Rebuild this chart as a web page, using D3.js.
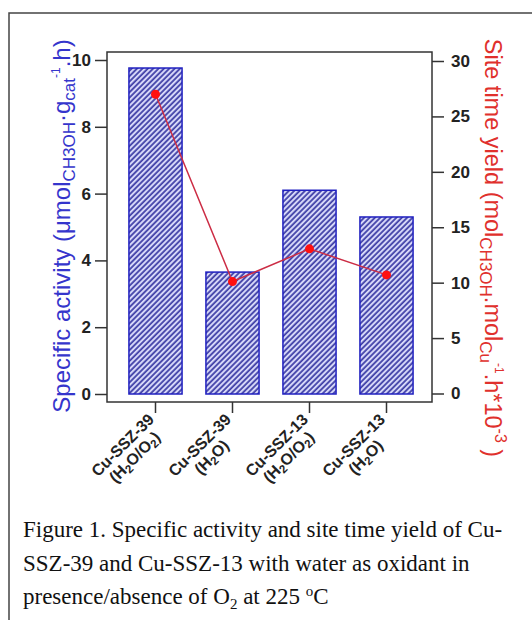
<!DOCTYPE html>
<html><head><meta charset="utf-8">
<script src="https://cdn.jsdelivr.net/npm/d3@7"></script>
<style>body{margin:0;background:#fff}svg{display:block}</style>
</head><body>
<svg id="chart" width="532" height="620"></svg>
<script>
const categories = ["Cu-SSZ-39|(H2O/O2)", "Cu-SSZ-39|(H2O)", "Cu-SSZ-13|(H2O/O2)", "Cu-SSZ-13|(H2O)"];
const specificActivity = [9.76, 3.65, 6.1, 5.3];
const siteTimeYield = [27.0, 10.1, 13.05, 10.7];
const leftTicks = [0, 2, 4, 6, 8, 10];
const rightTicks = [0, 5, 10, 15, 20, 25, 30];
const captionLines = [
  [["Figure 1. Specific activity and site time yield of Cu-", null]],
  [["SSZ-39 and Cu-SSZ-13 with water as oxidant in", null]],
  [["presence/absence of O", null], ["2", "sub"], [" at 225 ", null], ["o", "sup"], ["C", null]]
];

const svg = d3.select("#chart");
const frame = {l: 107, r: 432, t: 52, b: 402};

// outer box
svg.append("rect").attr("x", 9).attr("y", 13).attr("width", 560).attr("height", 640)
  .attr("fill", "none").attr("stroke", "#444").attr("stroke-width", 1.5);

const defs = svg.append("defs");
const pat = defs.append("pattern").attr("id", "hatch").attr("patternUnits", "userSpaceOnUse")
  .attr("width", 3.8).attr("height", 3.8).attr("patternTransform", "rotate(45)");
pat.append("rect").attr("width", 3.8).attr("height", 3.8).attr("fill", "#d6d7f8");
pat.append("line").attr("x1", 1).attr("y1", 0).attr("x2", 1).attr("y2", 3.8)
  .attr("stroke", "#1f1f96").attr("stroke-width", 1.45);

const x = d3.scaleBand().domain(categories).range([117, 425]).paddingInner(0.31).paddingOuter(0.155);
const yL = d3.scaleLinear().domain([0, 10]).range([394, 60]);
const yR = d3.scaleLinear().domain([0, 30]).range([393.5, 61]);

// bars
svg.append("g").selectAll("rect").data(categories).join("rect")
  .attr("x", d => x(d)).attr("width", x.bandwidth())
  .attr("y", (d, i) => yL(specificActivity[i]))
  .attr("height", (d, i) => yL(0) - yL(specificActivity[i]))
  .attr("fill", "url(#hatch)").attr("stroke", "#2020c0").attr("stroke-width", 1.5);

// frame
svg.append("rect").attr("x", frame.l).attr("y", frame.t)
  .attr("width", frame.r - frame.l).attr("height", frame.b - frame.t)
  .attr("fill", "none").attr("stroke", "#333").attr("stroke-width", 1.5);

const tickFont = (g) => {
  g.select(".domain").remove();
  g.selectAll(".tick line").attr("stroke", "#333").attr("stroke-width", 1.5);
  g.selectAll(".tick text").attr("font-family", "Liberation Sans, Arial, sans-serif")
    .attr("font-size", 17).attr("font-weight", "bold").attr("fill", "#222");
};

svg.append("g").attr("transform", `translate(${frame.l},0)`)
  .call(d3.axisLeft(yL).tickValues(leftTicks).tickSize(12).tickPadding(4)).call(tickFont);
svg.append("g").attr("transform", `translate(${frame.r},0)`)
  .call(d3.axisRight(yR).tickValues(rightTicks).tickSize(12).tickPadding(7)).call(tickFont);
const xAxis = svg.append("g").attr("transform", `translate(0,${frame.b})`)
  .call(d3.axisBottom(x).tickSize(11).tickFormat(""));
xAxis.select(".domain").remove();
xAxis.selectAll(".tick line").attr("stroke", "#333").attr("stroke-width", 1.5);

// rich text helper: parts = [[text, kind]], kind in null/sub/sup
function rich(t, parts, subSize, off) {
  let shift = 0;
  parts.forEach(([s, kind]) => {
    const target = kind === "sub" ? off : kind === "sup" ? -off * 1.6 : 0;
    const sp = t.append("tspan").attr("dy", target - shift).text(s);
    if (kind) sp.attr("font-size", subSize);
    shift = target;
  });
}

// x labels (rotated, two lines)
categories.forEach(c => {
  const [l1, l2] = c.split("|");
  const cx = x(c) + x.bandwidth() / 2;
  const g = svg.append("g").attr("transform", `translate(${cx - 29},${frame.b + 47}) rotate(-45)`)
    .attr("font-family", "Liberation Sans, Arial, sans-serif").attr("font-weight", "bold")
    .attr("font-size", 16).attr("fill", "#222").attr("text-anchor", "middle");
  g.append("text").attr("x", 0).attr("y", 0).text(l1);
  const t2 = g.append("text").attr("x", 0).attr("y", 17);
  const parts = l2.split(/(\d)/).filter(p => p !== "").map(p => [p, /^\d$/.test(p) ? "sub" : null]);
  rich(t2, parts, 11.5, 3);
});

// line + points
const line = d3.line().x((d, i) => x(categories[i]) + x.bandwidth() / 2).y(d => yR(d));
svg.append("path").datum(siteTimeYield).attr("d", line).attr("fill", "none")
  .attr("stroke", "#cc2d45").attr("stroke-width", 1.5);
svg.append("g").selectAll("circle").data(siteTimeYield).join("circle")
  .attr("cx", (d, i) => x(categories[i]) + x.bandwidth() / 2).attr("cy", d => yR(d))
  .attr("r", 4.5).attr("fill", "#ff1010");

// left axis title
const lt = svg.append("text").attr("transform", "translate(70,226) rotate(-90)")
  .attr("text-anchor", "middle").attr("font-family", "Liberation Sans, Arial, sans-serif")
  .attr("font-size", 24).attr("fill", "#3535cc");
lt.append("tspan").text("Specific activity (μmol");
lt.append("tspan").attr("font-size", 17).attr("dy", 5).text("CH3OH");
lt.append("tspan").attr("dy", -5).text("·g");
lt.append("tspan").attr("font-size", 17).attr("dy", 5).text("cat");
lt.append("tspan").attr("font-size", 12).attr("dy", -15).text("-1");
lt.append("tspan").attr("dy", 10).text(".h)");

// right axis title
const rt = svg.append("text").attr("transform", "translate(485,248) rotate(90)")
  .attr("text-anchor", "middle").attr("font-family", "Liberation Sans, Arial, sans-serif")
  .attr("font-size", 23.5).attr("fill", "#e0302c");
rt.append("tspan").text("Site time yield (mol");
rt.append("tspan").attr("font-size", 17).attr("dy", 5).text("CH3OH");
rt.append("tspan").attr("dy", -5).text(".mol");
rt.append("tspan").attr("font-size", 17).attr("dy", 5).text("Cu");
rt.append("tspan").attr("font-size", 12).attr("dy", -15).text("-1");
rt.append("tspan").attr("dy", 10).text(".h*10");
rt.append("tspan").attr("font-size", 16).attr("dy", -10).text("-3");
rt.append("tspan").attr("dy", 10).text(" )");

// caption
const baselines = [537, 571, 604];
captionLines.forEach((parts, i) => {
  const t = svg.append("text").attr("x", 23).attr("y", baselines[i])
    .attr("font-family", "Liberation Serif, Times New Roman, serif").attr("font-size", 23).attr("fill", "#111");
  rich(t, parts, 15, 5);
});
</script>
</body></html>
